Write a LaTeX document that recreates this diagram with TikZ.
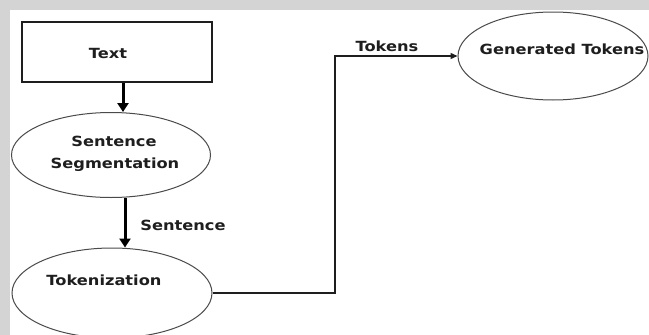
\documentclass[tikz,border=0pt]{standalone}
\usepackage{fontspec}
\setmainfont{DejaVu Sans}[FakeStretch=1.16]
\usetikzlibrary{shapes.geometric,arrows.meta}
\definecolor{bandgray}{HTML}{D4D4D4}
\definecolor{inkgray}{HTML}{1E1E1E}
\definecolor{edgegray}{HTML}{4A4A4A}
\tikzset{
  lbl/.style={font=\fontsize{14}{16}\selectfont\bfseries, text=inkgray, inner sep=0pt, align=center},
  ell/.style={ellipse, draw=edgegray, line width=1pt, inner sep=0pt},
  boxnode/.style={rectangle, draw=inkgray, line width=1.2pt, inner sep=0pt},
  thickarrow/.style={line width=3pt, draw=black, -{Triangle[width=11pt,length=9pt]}},
  thinarrow/.style={line width=1.4pt, draw=inkgray, -{Triangle[width=6pt,length=7pt]}}
}
\begin{document}
\begin{tikzpicture}[x=1pt,y=-1pt]
\fill[bandgray] (0,0) rectangle (649,335);
\fill[white] (10,10) rectangle (649,335);
\useasboundingbox (0,0) rectangle (649,335);
% boxes and ellipses
\node[boxnode, minimum width=190pt, minimum height=60pt] (text) at (117,52) {};
\node[ell, minimum width=199pt, minimum height=85pt] (seg) at (111,155) {};
\node[ell, minimum width=200pt, minimum height=90pt] (tok) at (112,293) {};
\node[ell, minimum width=190pt, minimum height=88pt] (gen) at (553,56) {};
% labels
\node[lbl] (textlbl) at (108,53) {Text};
\node[lbl] (seglbl1) at (114,141) {Sentence};
\node[lbl] (seglbl2) at (115,165) {Segmentation};
\node[lbl] (toklbl) at (104,280) {Tokenization};
\node[lbl] (genlbl) at (562,49) {Generated Tokens};
\node[lbl] (sentlbl) at (183,225) {Sentence};
\node[lbl] (tokslbl) at (387,46) {Tokens};
% connectors
\coordinate (bend) at (335,0);
\draw[thickarrow] ([xshift=6pt]text.south) -- ([xshift=6pt]text.south |- seg.north);
\draw[thickarrow] ([xshift=14pt]seg.south) -- ([xshift=14pt]seg.south |- tok.north);
\draw[thinarrow] (tok.east) -- (bend |- tok.east) -- (bend |- gen.west) -- (gen.west);
\end{tikzpicture}
\end{document}
